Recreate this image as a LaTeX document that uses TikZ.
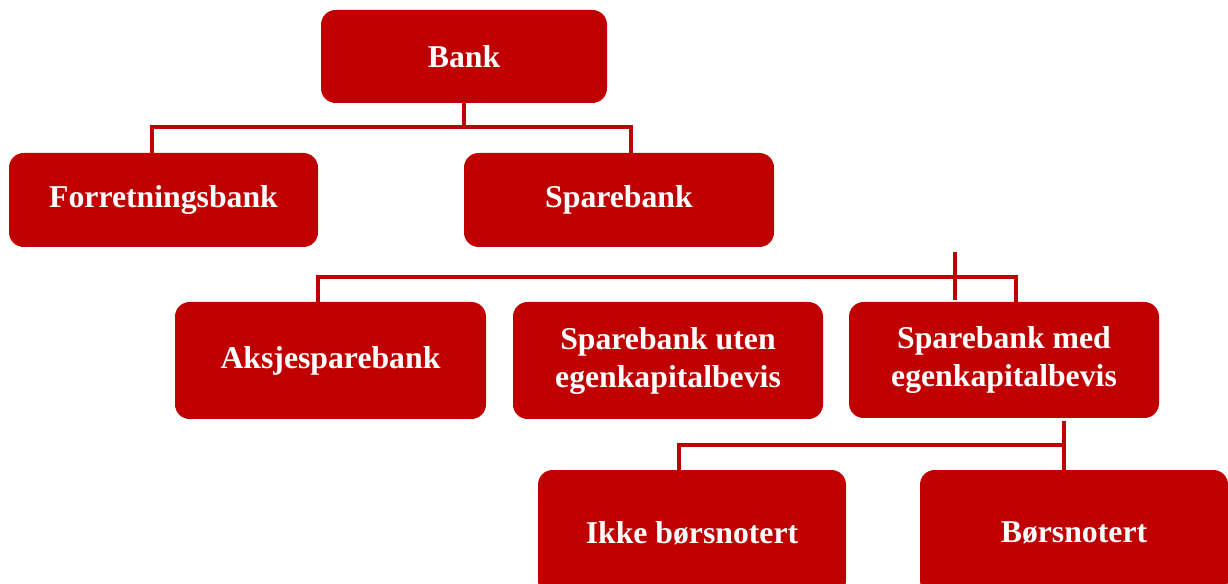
\documentclass[tikz,border=0pt]{standalone}
\usepackage{fontspec}
\setmainfont{Liberation Serif}
\definecolor{bankred}{HTML}{C00000}
\begin{document}
\begin{tikzpicture}[x=0.75pt, y=-0.75pt,
  box/.style={draw=none, fill=bankred, rounded corners=11pt, text=white,
    font=\fontsize{23.8}{28.5}\selectfont\bfseries, align=center, inner sep=0pt},
  link/.style={draw=bankred, line width=2.3pt}]
\useasboundingbox (0,0) rectangle (1228,584);

% boxes
\node[box, minimum width=214.5pt, minimum height=69.75pt] (bank) at (464,56.5) {Bank};
\node[box, minimum width=231.75pt, minimum height=70.5pt] (forret) at (163.5,200) {Forretningsbank};
\node[box, minimum width=232.5pt, minimum height=70.5pt] (spare) at (619,200) {Sparebank};
\node[box, minimum width=233.25pt, minimum height=87.75pt] (aksje) at (330.5,360.5) {Aksjesparebank};
\node[box, minimum width=232.5pt, minimum height=87.75pt] (uten) at (668,360.5) {Sparebank uten\\egenkapitalbevis};
\node[box, minimum width=232.5pt, minimum height=87pt] (med) at (1004,360) {Sparebank med\\egenkapitalbevis};
\node[box, minimum width=231pt, minimum height=93.75pt] (ikke) at (692,532.5) {Ikke børsnotert\\[-28.5pt]\phantom{x}};
\node[box, minimum width=231pt, minimum height=93.75pt] (bors) at (1074,532.5) {Børsnotert\\[-28.5pt]\phantom{x}};

% bus bends
\coordinate (b1) at (152,127);
\coordinate (b2) at (631,127);
\coordinate (s0) at (955,252);
\coordinate (s1) at (318,277);
\coordinate (s2) at (1016,277);
\coordinate (m1) at (679,445);
\coordinate (m2) at (1064,445);

% first level
\draw[link] (bank.south) -- (bank.south |- b1);
\draw[link] (forret.north -| b1) -- (b1) -- (b2) -- (spare.north -| b2);

% second level
\draw[link] (s0) -- ([yshift=1.5pt]med.north -| s0);
\draw[link] (aksje.north -| s1) -- (s1) -- (s2) -- (med.north -| s2);

% third level
\draw[link] ([yshift=-2pt]med.south -| m2) -- (bors.north -| m2);
\draw[link] (ikke.north -| m1) -- (m1) -- (m2);
\end{tikzpicture}
\end{document}
